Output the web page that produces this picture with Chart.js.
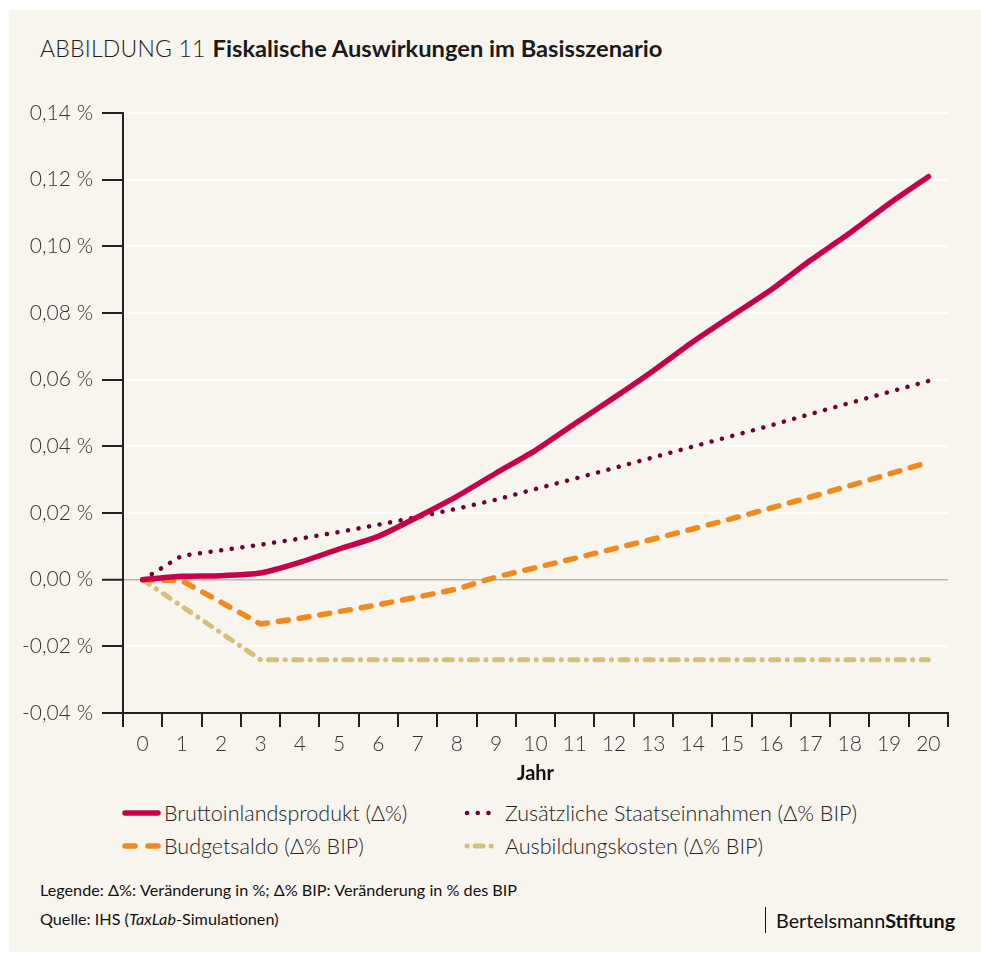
<!DOCTYPE html>
<html>
<head>
<meta charset="utf-8">
<script src="https://cdn.jsdelivr.net/npm/chart.js@4.4.1/dist/chart.umd.min.js"></script>
<style>
  html, body { margin: 0; padding: 0; background: #ffffff; width: 981px; height: 954px; overflow: hidden; }
  body { font-family: Lato, "Open Sans", sans-serif; color: #1a1a1a; }
  #card { position: absolute; left: 9px; top: 10px; width: 972px; height: 942px; background: #f8f5ee; }
  #title { position: absolute; left: 40px; top: 34px; font-size: 23px; white-space: nowrap; }
  #title .lbl { font-weight: 300; letter-spacing: 0.2px; }
  #title .main { font-weight: 700; margin-left: 7px; font-size: 23.7px; }
  #chartWrap { position: absolute; left: 9px; top: 90px; width: 960px; height: 700px; }
  .leg { position: absolute; display: flex; align-items: center; font-size: 21.5px; font-weight: 300; white-space: nowrap; color: #222; }
  .leg svg { margin-right: 3px; }
  #foot1 { position: absolute; left: 40px; top: 880px; font-size: 16.2px; color: #111; white-space: nowrap; }
  #foot2 { position: absolute; left: 40px; top: 909px; font-size: 16.2px; color: #111; white-space: nowrap; }
  #brand { position: absolute; left: 765px; top: 907px; height: 26px; border-left: 1.5px solid #111; padding-left: 10px; font-size: 19.8px; line-height: 26px; color: #111; white-space: nowrap; }
</style>
</head>
<body>
<div id="card"></div>
<div id="title"><span class="lbl">ABBILDUNG 11</span><span class="main">Fiskalische Auswirkungen im Basisszenario</span></div>
<div id="chartWrap"><canvas id="c" width="960" height="700"></canvas></div>

<div class="leg" style="left:121px; top:800px;"><svg width="40" height="12"><line x1="4" y1="6" x2="37" y2="6" stroke="#c8004b" stroke-width="5.5" stroke-linecap="round"/></svg>Bruttoinlandsprodukt (Δ%)</div>
<div class="leg" style="left:462px; top:800px;"><svg width="40" height="12"><line x1="5" y1="6" x2="37" y2="6" stroke="#6e0033" stroke-width="4.5" stroke-linecap="round" stroke-dasharray="0.1 10.6"/></svg>Zusätzliche Staatseinnahmen (Δ% BIP)</div>
<div class="leg" style="left:121px; top:833px;"><svg width="40" height="12"><line x1="4" y1="6" x2="37" y2="6" stroke="#f08a1e" stroke-width="5.5" stroke-linecap="round" stroke-dasharray="10 13"/></svg>Budgetsaldo (Δ% BIP)</div>
<div class="leg" style="left:462px; top:833px;"><svg width="40" height="12"><line x1="5" y1="6" x2="37" y2="6" stroke="#d6bf78" stroke-width="5" stroke-linecap="round" stroke-dasharray="0.1 8 8 8 0.1 20"/></svg>Ausbildungskosten (Δ% BIP)</div>

<div id="foot1">Legende: Δ%: Veränderung in %; Δ% BIP: Veränderung in % des BIP</div>
<div id="foot2">Quelle: IHS (<i>TaxLab</i>-Simulationen)</div>
<div id="brand">Bertelsmann<b>Stiftung</b></div>

<script>
// ---- data ----
const years = ['0','1','2','3','4','5','6','7','8','9','10','11','12','13','14','15','16','17','18','19','20'];
const bip = [0, 0.001, 0.0012, 0.002, 0.0052, 0.0092, 0.013, 0.0188, 0.025, 0.032, 0.0388, 0.0468, 0.0546, 0.0627, 0.0713, 0.0792, 0.087, 0.0958, 0.104, 0.1128, 0.1209];
const staatseinnahmen = [0, 0.0072, 0.0088, 0.0105, 0.0123, 0.0143, 0.0165, 0.0188, 0.0213, 0.024, 0.0272, 0.0303, 0.0335, 0.0367, 0.0399, 0.0431, 0.0463, 0.0497, 0.053, 0.0563, 0.0596];
const budgetsaldo = [0, -0.0003, -0.0068, -0.0133, -0.0116, -0.0096, -0.0075, -0.0052, -0.0028, 0.0008, 0.0036, 0.0064, 0.0093, 0.0122, 0.0152, 0.0183, 0.0215, 0.0248, 0.0282, 0.0317, 0.0352];
const ausbildungskosten = [0, -0.008, -0.016, -0.024, -0.024, -0.024, -0.024, -0.024, -0.024, -0.024, -0.024, -0.024, -0.024, -0.024, -0.024, -0.024, -0.024, -0.024, -0.024, -0.024, -0.024];
const seriesNames = ['Bruttoinlandsprodukt (Δ%)', 'Zusätzliche Staatseinnahmen (Δ% BIP)', 'Budgetsaldo (Δ% BIP)', 'Ausbildungskosten (Δ% BIP)'];
const yMin = -0.04, yMax = 0.14, yStep = 0.02;

const fmt = v => (Math.abs(v) < 1e-9 ? 0 : v).toFixed(2).replace('.', ',') + ' %';

new Chart(document.getElementById('c'), {
  type: 'line',
  data: {
    labels: years,
    datasets: [
      { label: seriesNames[0], data: bip, borderColor: '#c8004b', borderWidth: 5.5, borderCapStyle: 'round', borderJoinStyle: 'round', pointRadius: 0, tension: 0.2 },
      { label: seriesNames[1], data: staatseinnahmen, borderColor: '#6e0033', borderWidth: 4.5, borderDash: [0.1, 10.6], borderCapStyle: 'round', pointRadius: 0, tension: 0 },
      { label: seriesNames[2], data: budgetsaldo, borderColor: '#f08a1e', borderWidth: 5.5, borderDash: [10, 11], borderCapStyle: 'round', pointRadius: 0, tension: 0 },
      { label: seriesNames[3], data: ausbildungskosten, borderColor: '#d6bf78', borderWidth: 5, borderDash: [8, 8.5, 0.1, 8.5], borderCapStyle: 'round', pointRadius: 0, tension: 0 }
    ]
  },
  options: {
    responsive: false,
    animation: false,
    events: [],
    layout: { padding: { top: 23, right: 21, left: 0, bottom: 0 } },
    plugins: { legend: { display: false }, tooltip: { enabled: false } },
    scales: {
      x: {
        type: 'category',
        offset: true,
        afterFit: s => { s.height = 77; },
        grid: { offset: true, drawOnChartArea: false, drawTicks: true, tickLength: 14, tickColor: '#222', tickWidth: 2, lineWidth: 2, color: '#222' },
        border: { display: true, color: '#222', width: 2 },
        ticks: { color: '#333', font: { family: 'Lato', size: 21, weight: 300 }, padding: 5, maxRotation: 0, autoSkip: false },
        title: { display: true, text: 'Jahr', color: '#111', font: { family: 'Lato', size: 20, weight: 700 }, padding: { top: 0, bottom: 4 } }
      },
      y: {
        min: yMin, max: yMax,
        afterFit: s => { s.width = 114; },
        grid: {
          drawTicks: true, tickLength: 21, tickColor: '#222', tickWidth: 2,
          lineWidth: ctx => (Math.abs(ctx.tick.value) < 1e-9 ? 1.5 : 2),
          color: ctx => (Math.abs(ctx.tick.value) < 1e-9 ? '#b8b6b2' : '#ffffff')
        },
        border: { display: true, color: '#222', width: 2 },
        ticks: { stepSize: yStep, color: '#333', font: { family: 'Lato', size: 21, weight: 300 }, padding: 9, callback: v => fmt(v) }
      }
    }
  }
});
</script>
</body>
</html>
